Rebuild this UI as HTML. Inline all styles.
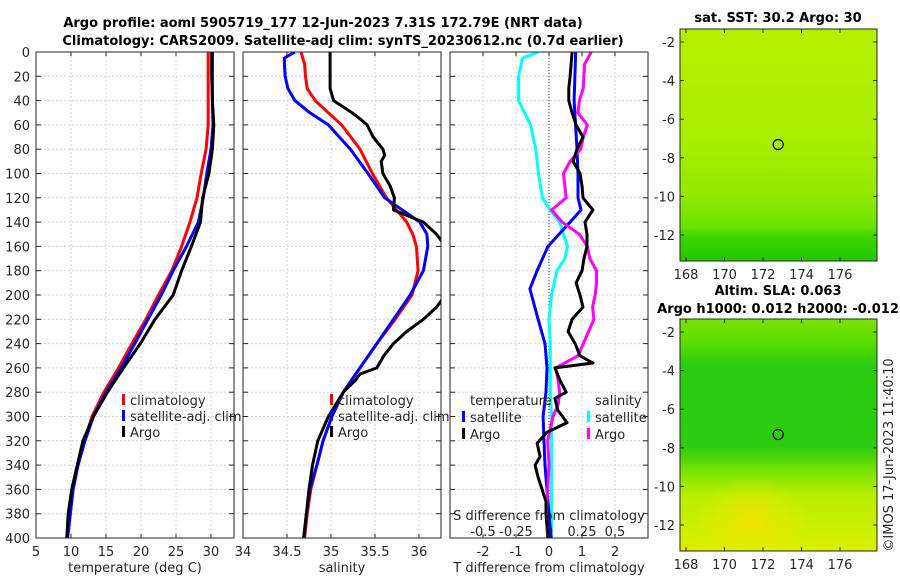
<!DOCTYPE html>
<html><head><meta charset="utf-8"><style>
body{margin:0;background:#fff}
svg{display:block;font-family:"DejaVu Sans","Liberation Sans",sans-serif}
</style></head><body>
<svg id="c" width="900" height="580" viewBox="0 0 900 580" xmlns="http://www.w3.org/2000/svg">
<defs>
<linearGradient id="gTop" x1="0" y1="0" x2="0" y2="1">
<stop offset="0" stop-color="#b4f000"/><stop offset="0.45" stop-color="#aaee00"/><stop offset="0.7" stop-color="#94ea00"/><stop offset="0.85" stop-color="#6ee200"/><stop offset="0.9" stop-color="#3cd400"/><stop offset="1" stop-color="#22c800"/>
</linearGradient>
<linearGradient id="gBot" x1="0" y1="0" x2="0" y2="1">
<stop offset="0" stop-color="#7ae400"/><stop offset="0.1" stop-color="#5adc00"/><stop offset="0.2" stop-color="#2acc10"/><stop offset="0.55" stop-color="#2ccc10"/><stop offset="0.66" stop-color="#7ae400"/><stop offset="0.76" stop-color="#b8ee00"/><stop offset="1" stop-color="#d8f000"/>
</linearGradient>
<radialGradient id="gSpot" cx="0.5" cy="0.5" r="0.5">
<stop offset="0" stop-color="#f2e400" stop-opacity="0.9"/><stop offset="1" stop-color="#f0e800" stop-opacity="0"/>
</radialGradient>
</defs>
</svg>
<script>
// ---------- data ----------
const depthStd = [0,20,40,60,80,100,120,140,160,180,200,220,240,260,280,300,320,340,360,380,400];
const tempClim = [29.6,29.6,29.6,29.6,29.3,28.6,28.0,27.0,25.8,24.4,22.5,20.7,18.7,16.8,14.7,13.0,11.9,11.0,10.3,9.9,9.5];
const tempSat  = [30.2,30.2,30.2,30.3,30.0,29.4,28.9,28.2,26.5,24.6,22.9,21.0,19.1,17.2,15.0,13.2,12.0,11.0,10.3,9.9,9.5];
const tempArgo = [30.1,30.1,30.2,30.4,30.2,29.7,28.8,28.5,27.2,25.8,24.6,22.0,19.9,17.5,15.2,13.2,11.7,10.9,10.1,9.6,9.4];
const salDepth = [0,5,10,20,30,40,50,60,80,100,120,140,150,160,180,200,220,240,260,280,300,320,340,360,380,400];
const salClim  = [34.66,34.68,34.70,34.71,34.73,34.82,34.97,35.12,35.33,35.47,35.63,35.86,35.93,35.97,35.99,35.92,35.73,35.52,35.33,35.14,35.01,34.91,34.84,34.77,34.73,34.70];
const salSat   = [34.59,34.47,34.47,34.48,34.51,34.59,34.76,34.97,35.22,35.42,35.61,36.01,36.09,36.10,36.05,35.90,35.71,35.52,35.33,35.14,35.01,34.91,34.84,34.76,34.72,34.69];
const salArgoDepth = [0,30,40,50,55,60,70,80,85,90,100,110,120,130,140,150,160,200,210,220,230,240,250,260,265,270,280,300,320,340,360,380,400];
const salArgo = [34.99,34.99,35.03,35.24,35.33,35.41,35.48,35.59,35.61,35.57,35.59,35.67,35.72,35.71,36.05,36.2,36.3,36.3,36.2,36.05,35.86,35.71,35.6,35.52,35.33,35.28,35.14,34.97,34.85,34.79,34.75,34.72,34.69];
const dTSatDepth = [0,40,80,100,120,130,140,160,180,195,220,240,260,280,300,320,340,360,380,400];
const dTSat = [0.81,0.76,0.85,0.88,0.88,0.97,0.64,-0.03,-0.36,-0.58,-0.33,-0.12,-0.06,-0.09,-0.18,-0.15,-0.12,-0.06,0,0.06];
const dTArgoDepth = [0,10,20,30,40,50,60,70,80,90,100,110,120,130,140,150,160,170,180,190,200,210,220,230,240,250,256,260,270,280,285,295,305,313,322,333,340,350,360,370,380,390,400];
const dTArgo = [0.7,0.67,0.64,0.6,0.6,0.7,0.82,1.03,0.85,0.73,0.94,1.0,1.03,1.33,1.09,1.15,1.15,1.06,1.0,0.82,0.94,1.03,0.7,0.58,0.79,0.94,1.33,0.18,0.33,0.52,0.18,0.27,0.55,-0.06,-0.36,-0.27,-0.42,-0.33,-0.21,-0.09,-0.09,-0.06,-0.03];
const dSSatDepth = [0,5,20,40,60,80,100,120,130,140,160,170,180,200,220,240,260,280,300,320,340,360,380,400];
const dSSat = [-0.08,-0.2,-0.23,-0.23,-0.14,-0.1,-0.08,-0.05,0.01,0.08,0.14,0.12,0.06,0.02,0,0.01,0.01,0.01,0.02,0.02,0.02,0.02,0.02,0.02];
const dSArgoDepth = [0,10,30,40,50,60,70,80,90,100,120,130,140,150,160,170,180,190,200,210,220,230,240,250,260,270,280,290,300,310,320,340,360,380,400];
const dSArgo = [0.32,0.27,0.26,0.23,0.22,0.29,0.26,0.24,0.16,0.11,0.13,0.02,0.10,0.23,0.29,0.31,0.36,0.36,0.35,0.33,0.34,0.30,0.26,0.22,0.05,0.07,0.08,0.07,0.03,0.01,-0.01,0,-0.01,-0.02,-0.01];
const depthTicks = [0,20,40,60,80,100,120,140,160,180,200,220,240,260,280,300,320,340,360,380,400];
const tempTicks = [5,10,15,20,25,30];
const salTicks = [34,34.5,35,35.5,36];
const dTTicks = [-2,-1,0,1,2];
const dSTicks = [-0.5,-0.25,0,0.25,0.5];
const dSTickLabels = ["-0.5","-0.25","0","0.25","0.5"];
const lonTicks = [168,170,172,174,176];
const latTicks = [-2,-4,-6,-8,-10,-12];
const argoLon = 172.79, argoLat = -7.31;

// ---------- helpers ----------
const svg = document.getElementById('c');
const NS = 'http://www.w3.org/2000/svg';
function mk(tag, at, parent){const e=document.createElementNS(NS,tag);for(const k in at)e.setAttribute(k,at[k]);(parent||svg).appendChild(e);return e;}
function txt(x,y,s,at,parent){const e=mk('text',Object.assign({x:x,y:y,'font-size':13,fill:'#262626'},at||{}),parent);e.textContent=s;return e;}
const yD = d => 52 + d*1.215;
const PT = {x0:36,x1:234}, PS={x0:243,x1:441}, PD={x0:450,x1:648};
const xT = v => 36 + (v-5)*7;
const xS = v => 243 + (v-34)*88;
const xDT = v => 549 + v*33;
const xDS = v => 549 + v*132;

function panel(name,P,ticksX,xf,showY){
  const g=mk('g',{});
  
  
  ticksX.forEach(t=>{const x=xf(t);mk('line',{x1:x,x2:x,y1:52,y2:538,stroke:'#c8d0f0','stroke-width':1,'stroke-dasharray':'2,2'},g);
    mk('line',{x1:x,x2:x,y1:52,y2:56,stroke:'#262626'},g);mk('line',{x1:x,x2:x,y1:538,y2:534,stroke:'#262626'},g);});
  depthTicks.forEach(d=>{const y=yD(d);mk('line',{x1:P.x0,x2:P.x1,y1:y,y2:y,stroke:'#c8d0f0','stroke-width':1,'stroke-dasharray':'2,2'},g);
    mk('line',{x1:P.x0,x2:P.x0+5,y1:y,y2:y,stroke:'#262626'},g);mk('line',{x1:P.x1,x2:P.x1-5,y1:y,y2:y,stroke:'#262626'},g);
    if(showY){const t=txt(30,y+5,String(d),{'text-anchor':'end'},g);}});
  return g;
}
function clip(id,P){const cp=mk('clipPath',{id:id});mk('rect',{x:P.x0,y:52,width:P.x1-P.x0,height:486},cp);}
function line(name,dep,vals,xf,color,clipId,w){
  const pts=vals.map((v,i)=>xf(v).toFixed(1)+','+yD(dep[i]).toFixed(1)).join(' ');
  const e=mk('polyline',{points:pts,fill:'none',stroke:color,'stroke-width':w||3,'stroke-linejoin':'round','clip-path':'url(#'+clipId+')'});
  
  
}
function frame(P){mk('rect',{x:P.x0,y:52,width:P.x1-P.x0,height:486,fill:'none',stroke:'#262626','stroke-width':1});}
function legItem(x,y,color,label,parent){mk('rect',{x:x,y:y-11,width:3,height:11,fill:color},parent);txt(x+8,y,label,{},parent);}

// titles
const t1=txt(323,27,'Argo profile: aoml 5905719_177 12-Jun-2023 7.31S 172.79E (NRT data)',{'text-anchor':'middle','font-weight':'bold',fill:'#000'});

const t2=txt(343,45,'Climatology: CARS2009. Satellite-adj clim: synTS_20230612.nc (0.7d earlier)',{'text-anchor':'middle','font-weight':'bold',fill:'#000'});


// panel 1 temperature
panel('temperature-panel',PT,tempTicks,xT,true);clip('cT',PT);
line('temp-climatology-line',depthStd,tempClim,xT,'#ff0000','cT');
line('temp-satellite-line',depthStd,tempSat,xT,'#0000ff','cT');
line('temp-argo-line',depthStd,tempArgo,xT,'#000000','cT');
frame(PT);
tempTicks.forEach(t=>txt(xT(t),556,String(t),{'text-anchor':'middle'}));
const xl1=txt(135,572,'temperature (deg C)',{'text-anchor':'middle'});
const lg1=mk('g',{});
legItem(122,405,'#ff0000','climatology',lg1);legItem(122,421,'#0000ff','satellite-adj. clim',lg1);legItem(122,437,'#000','Argo',lg1);

// panel 2 salinity
panel('salinity-panel',PS,salTicks,xS,false);clip('cS',PS);
line('sal-climatology-line',salDepth,salClim,xS,'#ff0000','cS');
line('sal-satellite-line',salDepth,salSat,xS,'#0000ff','cS');
line('sal-argo-line',salArgoDepth,salArgo,xS,'#000000','cS');
frame(PS);
salTicks.forEach(t=>txt(xS(t),556,String(t),{'text-anchor':'middle'}));
const xl2=txt(342,572,'salinity',{'text-anchor':'middle'});
const lg2=mk('g',{});
legItem(330,405,'#ff0000','climatology',lg2);legItem(330,421,'#0000ff','satellite-adj. clim',lg2);legItem(330,437,'#000','Argo',lg2);

// panel 3 differences
panel('difference-panel',PD,dTTicks,xDT,false);clip('cD',PD);
mk('line',{x1:549,x2:549,y1:52,y2:538,stroke:'#333','stroke-width':1,'stroke-dasharray':'1,2'});
line('dS-satellite-line',dSSatDepth,dSSat,xDS,'#00ffff','cD');
line('dT-satellite-line',dTSatDepth,dTSat,xDT,'#0000ff','cD');
line('dS-argo-line',dSArgoDepth,dSArgo,xDS,'#ff00ff','cD');
line('dT-argo-line',dTArgoDepth,dTArgo,xDT,'#000000','cD');
frame(PD);
dTTicks.forEach(t=>txt(xDT(t),556,String(t),{'text-anchor':'middle'}));
dSTicks.forEach((t,i)=>txt(xDS(t),536,dSTickLabels[i],{'text-anchor':'middle'}));
txt(549,520,'S difference from climatology',{'text-anchor':'middle'});
const xl3=txt(549,572,'T difference from climatology',{'text-anchor':'middle'});
const lg3=mk('g',{});
txt(470,405,'temperature',{},lg3);txt(595,405,'salinity',{},lg3);
legItem(462,422,'#0000ff','satellite',lg3);legItem(462,439,'#000','Argo',lg3);
legItem(587,422,'#00ffff','satellite',lg3);legItem(587,439,'#ff00ff','Argo',lg3);

// maps
const lonX = v => 686 + (v-168)*19.25;
function map(name,y0,fill,extra){
  const g=mk('g',{});
  const cp=mk('clipPath',{id:'clip-'+name});mk('rect',{x:680,y:y0,width:197,height:232},cp);
  mk('rect',{x:680,y:y0,width:197,height:232,fill:fill},g);
  if(extra){const eg=mk('g',{'clip-path':'url(#clip-'+name+')'},g);extra(eg);}
  const latY = v => y0 + 13 + (-2-v)*19.3;
  mk('rect',{x:680,y:y0,width:197,height:232,fill:'none',stroke:'#262626'},g);
  latTicks.forEach(t=>{const y=latY(t);mk('line',{x1:680,x2:684,y1:y,y2:y,stroke:'#262626'},g);mk('line',{x1:877,x2:873,y1:y,y2:y,stroke:'#262626'},g);txt(675,y+5,String(t),{'text-anchor':'end'},g);});
  lonTicks.forEach(t=>{const x=lonX(t);mk('line',{x1:x,x2:x,y1:y0+232,y2:y0+228,stroke:'#262626'},g);mk('line',{x1:x,x2:x,y1:y0,y2:y0+4,stroke:'#262626'},g);txt(x,y0+250,String(t),{'text-anchor':'middle'},g);});
  const c=mk('circle',{cx:lonX(argoLon),cy:latY(argoLat),r:5,fill:'none',stroke:'#000','stroke-width':1.2},g);
  
}
map('sst-map',29,'url(#gTop)');
map('sla-map',319,'url(#gBot)',g=>{mk('ellipse',{cx:752,cy:522,rx:60,ry:45,fill:'url(#gSpot)'},g);});
const mt1=txt(778,22,'sat. SST: 30.2 Argo: 30',{'text-anchor':'middle','font-weight':'bold',fill:'#000'});
txt(778,295,'Altim. SLA: 0.063',{'text-anchor':'middle','font-weight':'bold',fill:'#000'});
const mt2=txt(778,313,'Argo h1000: 0.012 h2000: -0.012',{'text-anchor':'middle','font-weight':'bold',fill:'#000'});
const cr=txt(0,0,'©IMOS 17-Jun-2023 11:40:10',{'text-anchor':'middle',transform:'translate(893,455) rotate(-90)'});

</script>
</body></html>
